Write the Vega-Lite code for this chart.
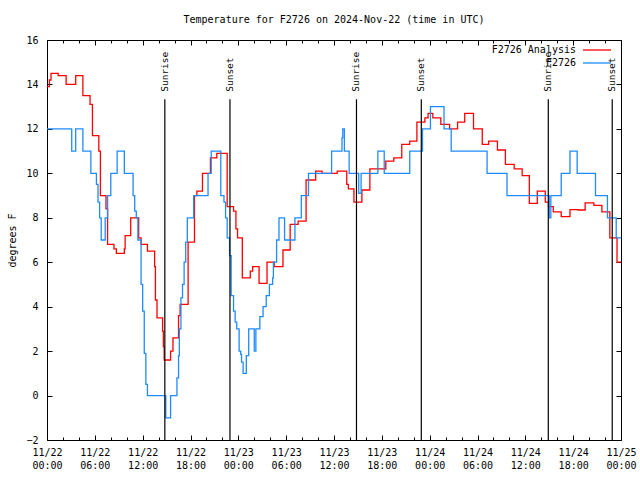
{
  "$schema": "https://vega.github.io/schema/vega-lite/v6.json",
  "width": 574,
  "height": 400,
  "autosize": {"type": "none"},
  "padding": {"left": 47, "top": 40, "right": 19, "bottom": 40},
  "background": "white",
  "title": {"text": "Temperature for F2726 on 2024-Nov-22 (time in UTC)", "font": "DejaVu Sans Mono", "fontSize": 10, "fontWeight": "normal", "anchor": "middle", "offset": 10, "color": "black"},
  "config": {
    "view": {"stroke": "black", "strokeWidth": 1},
    "font": "DejaVu Sans Mono",
    "axis": {"domain": false, "grid": false, "tickColor": "black", "labelColor": "black", "labelFont": "DejaVu Sans Mono", "labelFontSize": 10, "titleFont": "DejaVu Sans Mono", "titleFontSize": 10, "titleFontWeight": "normal", "titleColor": "black", "tickWidth": 1}
  },
  "datasets": {
    "temps": [
      {"h": 0, "v": 13.9, "s": "F2726 Analysis"},
      {"h": 0.3, "v": 14.2, "s": "F2726 Analysis"},
      {"h": 0.5, "v": 14.5, "s": "F2726 Analysis"},
      {"h": 1.4, "v": 14.4, "s": "F2726 Analysis"},
      {"h": 2.4, "v": 14.0, "s": "F2726 Analysis"},
      {"h": 3.6, "v": 14.4, "s": "F2726 Analysis"},
      {"h": 4.5, "v": 13.5, "s": "F2726 Analysis"},
      {"h": 5.4, "v": 13.1, "s": "F2726 Analysis"},
      {"h": 5.7, "v": 11.7, "s": "F2726 Analysis"},
      {"h": 6.5, "v": 11.0, "s": "F2726 Analysis"},
      {"h": 6.7, "v": 9.0, "s": "F2726 Analysis"},
      {"h": 7.4, "v": 8.4, "s": "F2726 Analysis"},
      {"h": 7.6, "v": 6.8, "s": "F2726 Analysis"},
      {"h": 8.4, "v": 6.6, "s": "F2726 Analysis"},
      {"h": 8.7, "v": 6.4, "s": "F2726 Analysis"},
      {"h": 9.7, "v": 6.6, "s": "F2726 Analysis"},
      {"h": 9.8, "v": 7.2, "s": "F2726 Analysis"},
      {"h": 10.5, "v": 8.0, "s": "F2726 Analysis"},
      {"h": 11.5, "v": 7.1, "s": "F2726 Analysis"},
      {"h": 11.8, "v": 6.8, "s": "F2726 Analysis"},
      {"h": 12.6, "v": 6.5, "s": "F2726 Analysis"},
      {"h": 13.5, "v": 5.8, "s": "F2726 Analysis"},
      {"h": 13.6, "v": 4.3, "s": "F2726 Analysis"},
      {"h": 13.8, "v": 3.5, "s": "F2726 Analysis"},
      {"h": 14.5, "v": 2.9, "s": "F2726 Analysis"},
      {"h": 14.6, "v": 2.2, "s": "F2726 Analysis"},
      {"h": 14.7, "v": 1.6, "s": "F2726 Analysis"},
      {"h": 15.5, "v": 2.0, "s": "F2726 Analysis"},
      {"h": 15.8, "v": 2.6, "s": "F2726 Analysis"},
      {"h": 16.5, "v": 3.6, "s": "F2726 Analysis"},
      {"h": 16.7, "v": 4.1, "s": "F2726 Analysis"},
      {"h": 17.7, "v": 6.9, "s": "F2726 Analysis"},
      {"h": 18.5, "v": 9.0, "s": "F2726 Analysis"},
      {"h": 18.8, "v": 9.2, "s": "F2726 Analysis"},
      {"h": 19.5, "v": 10.0, "s": "F2726 Analysis"},
      {"h": 20.5, "v": 10.7, "s": "F2726 Analysis"},
      {"h": 21.3, "v": 10.9, "s": "F2726 Analysis"},
      {"h": 22.6, "v": 8.5, "s": "F2726 Analysis"},
      {"h": 23.4, "v": 8.3, "s": "F2726 Analysis"},
      {"h": 23.7, "v": 7.5, "s": "F2726 Analysis"},
      {"h": 23.9, "v": 7.1, "s": "F2726 Analysis"},
      {"h": 24.5, "v": 5.3, "s": "F2726 Analysis"},
      {"h": 25.5, "v": 5.6, "s": "F2726 Analysis"},
      {"h": 25.8, "v": 5.8, "s": "F2726 Analysis"},
      {"h": 26.6, "v": 5.05, "s": "F2726 Analysis"},
      {"h": 27.6, "v": 6.0, "s": "F2726 Analysis"},
      {"h": 28.5, "v": 5.8, "s": "F2726 Analysis"},
      {"h": 29.6, "v": 6.55, "s": "F2726 Analysis"},
      {"h": 30.5, "v": 7.7, "s": "F2726 Analysis"},
      {"h": 31.5, "v": 7.85, "s": "F2726 Analysis"},
      {"h": 32.5, "v": 9.7, "s": "F2726 Analysis"},
      {"h": 33.7, "v": 10.1, "s": "F2726 Analysis"},
      {"h": 34.5, "v": 10.0, "s": "F2726 Analysis"},
      {"h": 36.4, "v": 10.1, "s": "F2726 Analysis"},
      {"h": 37.6, "v": 9.5, "s": "F2726 Analysis"},
      {"h": 37.8, "v": 9.3, "s": "F2726 Analysis"},
      {"h": 38.5, "v": 8.7, "s": "F2726 Analysis"},
      {"h": 39.5, "v": 9.25, "s": "F2726 Analysis"},
      {"h": 40.5, "v": 10.2, "s": "F2726 Analysis"},
      {"h": 42.5, "v": 10.55, "s": "F2726 Analysis"},
      {"h": 43.5, "v": 10.7, "s": "F2726 Analysis"},
      {"h": 44.5, "v": 11.3, "s": "F2726 Analysis"},
      {"h": 45.5, "v": 11.45, "s": "F2726 Analysis"},
      {"h": 46.4, "v": 12.3, "s": "F2726 Analysis"},
      {"h": 47.4, "v": 12.5, "s": "F2726 Analysis"},
      {"h": 47.8, "v": 12.7, "s": "F2726 Analysis"},
      {"h": 48.4, "v": 12.5, "s": "F2726 Analysis"},
      {"h": 49.4, "v": 12.2, "s": "F2726 Analysis"},
      {"h": 50.5, "v": 12.0, "s": "F2726 Analysis"},
      {"h": 51.5, "v": 12.3, "s": "F2726 Analysis"},
      {"h": 52.4, "v": 12.7, "s": "F2726 Analysis"},
      {"h": 53.5, "v": 12.0, "s": "F2726 Analysis"},
      {"h": 54.6, "v": 11.3, "s": "F2726 Analysis"},
      {"h": 55.4, "v": 11.45, "s": "F2726 Analysis"},
      {"h": 56.5, "v": 11.05, "s": "F2726 Analysis"},
      {"h": 57.5, "v": 10.4, "s": "F2726 Analysis"},
      {"h": 58.6, "v": 10.2, "s": "F2726 Analysis"},
      {"h": 59.6, "v": 9.9, "s": "F2726 Analysis"},
      {"h": 60.5, "v": 8.65, "s": "F2726 Analysis"},
      {"h": 61.5, "v": 9.2, "s": "F2726 Analysis"},
      {"h": 62.5, "v": 8.7, "s": "F2726 Analysis"},
      {"h": 62.9, "v": 8.5, "s": "F2726 Analysis"},
      {"h": 63.5, "v": 8.27, "s": "F2726 Analysis"},
      {"h": 64.5, "v": 8.05, "s": "F2726 Analysis"},
      {"h": 65.6, "v": 8.37, "s": "F2726 Analysis"},
      {"h": 66.6, "v": 8.35, "s": "F2726 Analysis"},
      {"h": 67.5, "v": 8.67, "s": "F2726 Analysis"},
      {"h": 68.6, "v": 8.56, "s": "F2726 Analysis"},
      {"h": 69.6, "v": 8.27, "s": "F2726 Analysis"},
      {"h": 70.6, "v": 7.1, "s": "F2726 Analysis"},
      {"h": 71.5, "v": 6.0, "s": "F2726 Analysis"},
      {"h": 72, "v": 6.0, "s": "F2726 Analysis"},
      {"h": 0, "v": 12.0, "s": "F2726"},
      {"h": 3.1, "v": 11.0, "s": "F2726"},
      {"h": 3.6, "v": 12.0, "s": "F2726"},
      {"h": 4.5, "v": 11.0, "s": "F2726"},
      {"h": 5.5, "v": 10.0, "s": "F2726"},
      {"h": 6.2, "v": 9.5, "s": "F2726"},
      {"h": 6.4, "v": 8.7, "s": "F2726"},
      {"h": 6.6, "v": 8.0, "s": "F2726"},
      {"h": 6.8, "v": 7.0, "s": "F2726"},
      {"h": 7.3, "v": 8.0, "s": "F2726"},
      {"h": 7.6, "v": 9.0, "s": "F2726"},
      {"h": 8.0, "v": 10.0, "s": "F2726"},
      {"h": 8.8, "v": 11.0, "s": "F2726"},
      {"h": 9.7, "v": 10.0, "s": "F2726"},
      {"h": 10.8, "v": 9.0, "s": "F2726"},
      {"h": 11.0, "v": 8.3, "s": "F2726"},
      {"h": 11.2, "v": 8.0, "s": "F2726"},
      {"h": 11.4, "v": 7.0, "s": "F2726"},
      {"h": 11.8, "v": 5.0, "s": "F2726"},
      {"h": 12.0, "v": 3.8, "s": "F2726"},
      {"h": 12.2, "v": 1.9, "s": "F2726"},
      {"h": 12.4, "v": 0.5, "s": "F2726"},
      {"h": 12.6, "v": 0.0, "s": "F2726"},
      {"h": 14.9, "v": -1.0, "s": "F2726"},
      {"h": 15.5, "v": 0.0, "s": "F2726"},
      {"h": 16.3, "v": 0.8, "s": "F2726"},
      {"h": 16.5, "v": 1.8, "s": "F2726"},
      {"h": 16.6, "v": 3.0, "s": "F2726"},
      {"h": 16.8, "v": 4.4, "s": "F2726"},
      {"h": 17.0, "v": 5.0, "s": "F2726"},
      {"h": 17.2, "v": 6.0, "s": "F2726"},
      {"h": 17.4, "v": 6.9, "s": "F2726"},
      {"h": 17.6, "v": 8.0, "s": "F2726"},
      {"h": 18.4, "v": 9.0, "s": "F2726"},
      {"h": 20.2, "v": 10.0, "s": "F2726"},
      {"h": 20.6, "v": 11.0, "s": "F2726"},
      {"h": 21.8, "v": 9.0, "s": "F2726"},
      {"h": 22.2, "v": 8.7, "s": "F2726"},
      {"h": 22.4, "v": 8.0, "s": "F2726"},
      {"h": 22.6, "v": 7.1, "s": "F2726"},
      {"h": 22.9, "v": 6.3, "s": "F2726"},
      {"h": 23.1, "v": 4.5, "s": "F2726"},
      {"h": 23.4, "v": 3.8, "s": "F2726"},
      {"h": 23.6, "v": 3.3, "s": "F2726"},
      {"h": 23.8, "v": 3.0, "s": "F2726"},
      {"h": 24.1, "v": 2.0, "s": "F2726"},
      {"h": 24.3, "v": 1.85, "s": "F2726"},
      {"h": 24.4, "v": 1.5, "s": "F2726"},
      {"h": 24.6, "v": 1.0, "s": "F2726"},
      {"h": 25.0, "v": 1.8, "s": "F2726"},
      {"h": 25.3, "v": 3.0, "s": "F2726"},
      {"h": 26.0, "v": 2.0, "s": "F2726"},
      {"h": 26.2, "v": 3.0, "s": "F2726"},
      {"h": 26.7, "v": 3.55, "s": "F2726"},
      {"h": 27.1, "v": 4.0, "s": "F2726"},
      {"h": 27.5, "v": 4.5, "s": "F2726"},
      {"h": 27.9, "v": 5.0, "s": "F2726"},
      {"h": 28.3, "v": 5.3, "s": "F2726"},
      {"h": 28.4, "v": 6.0, "s": "F2726"},
      {"h": 28.8, "v": 7.0, "s": "F2726"},
      {"h": 29.1, "v": 8.0, "s": "F2726"},
      {"h": 29.8, "v": 7.0, "s": "F2726"},
      {"h": 31.1, "v": 8.0, "s": "F2726"},
      {"h": 31.9, "v": 9.0, "s": "F2726"},
      {"h": 32.8, "v": 10.0, "s": "F2726"},
      {"h": 35.7, "v": 11.0, "s": "F2726"},
      {"h": 37.0, "v": 11.6, "s": "F2726"},
      {"h": 37.1, "v": 12.0, "s": "F2726"},
      {"h": 37.3, "v": 11.0, "s": "F2726"},
      {"h": 37.9, "v": 10.0, "s": "F2726"},
      {"h": 39.1, "v": 9.1, "s": "F2726"},
      {"h": 39.4, "v": 10.0, "s": "F2726"},
      {"h": 41.5, "v": 11.0, "s": "F2726"},
      {"h": 42.3, "v": 10.0, "s": "F2726"},
      {"h": 45.5, "v": 11.0, "s": "F2726"},
      {"h": 47.1, "v": 12.0, "s": "F2726"},
      {"h": 48.1, "v": 13.0, "s": "F2726"},
      {"h": 49.8, "v": 12.0, "s": "F2726"},
      {"h": 50.7, "v": 11.0, "s": "F2726"},
      {"h": 55.2, "v": 10.0, "s": "F2726"},
      {"h": 57.7, "v": 9.0, "s": "F2726"},
      {"h": 63.0, "v": 8.0, "s": "F2726"},
      {"h": 63.2, "v": 9.0, "s": "F2726"},
      {"h": 64.5, "v": 10.0, "s": "F2726"},
      {"h": 65.6, "v": 11.0, "s": "F2726"},
      {"h": 66.5, "v": 10.0, "s": "F2726"},
      {"h": 68.8, "v": 9.0, "s": "F2726"},
      {"h": 70.3, "v": 8.0, "s": "F2726"},
      {"h": 71.4, "v": 7.1, "s": "F2726"},
      {"h": 72, "v": 7.1, "s": "F2726"}
    ],
    "events": [
      {"h": 14.78, "label": "Sunrise"},
      {"h": 22.95, "label": "Sunset"},
      {"h": 38.82, "label": "Sunrise"},
      {"h": 46.95, "label": "Sunset"},
      {"h": 62.88, "label": "Sunrise"},
      {"h": 70.9, "label": "Sunset"}
    ]
  },
  "layer": [
    {
      "data": {"name": "temps"},
      "mark": {"type": "line", "interpolate": "step-after", "strokeWidth": 1.3, "clip": true},
      "encoding": {
        "x": {"field": "h", "type": "quantitative", "scale": {"domain": [0, 72], "nice": false, "zero": false},
          "axis": {"orient": "bottom", "title": null, "values": [0, 6, 12, 18, 24, 30, 36, 42, 48, 54, 60, 66, 72], "tickSize": -5, "labelPadding": 12, "labelBaseline": "top", "labelLineHeight": 13, "labelFlush": false, "labelOverlap": false,
            "labelExpr": "['11/' + (22 + floor(datum.value / 24)), format(datum.value % 24, '02d') + ':00']"}},
        "y": {"field": "v", "type": "quantitative", "scale": {"domain": [-2, 16], "nice": false, "zero": false},
          "axis": {"orient": "left", "title": "degrees F", "values": [-2, 0, 2, 4, 6, 8, 10, 12, 14, 16], "tickSize": -5, "labelPadding": 14, "titlePadding": 8}},
        "color": {"field": "s", "type": "nominal", "sort": ["F2726 Analysis", "F2726"],
          "scale": {"domain": ["F2726 Analysis", "F2726"], "range": ["#ff0000", "#1e8cff"]},
          "legend": {"title": null, "orient": "none", "legendX": 542, "legendY": 2, "symbolType": "M-2,0H2", "symbolSize": 196, "symbolStrokeWidth": 1.3, "labelAlign": "right", "labelOffset": -29, "labelFont": "DejaVu Sans Mono", "labelFontSize": 10, "labelColor": "black", "rowPadding": 0, "padding": 0}}
      }
    },
    {
      "data": {"name": "events"},
      "mark": {"type": "rule", "color": "black", "strokeWidth": 1.2},
      "encoding": {
        "x": {"field": "h", "type": "quantitative",
          "axis": {"orient": "bottom", "title": null, "values": [2, 4, 8, 10, 14, 16, 20, 22, 26, 28, 32, 34, 38, 40, 44, 46, 50, 52, 56, 58, 62, 64, 68, 70], "tickSize": -3, "labels": false}},
        "y": {"datum": 13.33, "type": "quantitative",
          "axis": {"orient": "right", "title": null, "values": [-2, 0, 2, 4, 6, 8, 10, 12, 14, 16], "tickSize": -5, "labels": false}},
        "y2": {"datum": -2}
      }
    },
    {
      "data": {"name": "events"},
      "mark": {"type": "text", "angle": 270, "align": "left", "baseline": "middle", "font": "DejaVu Sans Mono", "fontSize": 9.5, "color": "black"},
      "encoding": {
        "x": {"field": "h", "type": "quantitative",
          "axis": {"orient": "top", "title": null, "values": [0, 6, 12, 18, 24, 30, 36, 42, 48, 54, 60, 66, 72], "tickSize": -5, "labels": false}},
        "y": {"datum": 13.67, "type": "quantitative", "axis": null},
        "text": {"field": "label"}
      }
    },
    {
      "data": {"name": "events"},
      "mark": {"type": "rule", "opacity": 0},
      "encoding": {
        "x": {"field": "h", "type": "quantitative",
          "axis": {"orient": "top", "title": null, "values": [2, 4, 8, 10, 14, 16, 20, 22, 26, 28, 32, 34, 38, 40, 44, 46, 50, 52, 56, 58, 62, 64, 68, 70], "tickSize": -3, "labels": false}},
        "y": {"datum": 13.33, "type": "quantitative", "axis": null},
        "y2": {"datum": -2}
      }
    }
  ],
  "resolve": {"axis": {"x": "independent", "y": "independent"}}
}
